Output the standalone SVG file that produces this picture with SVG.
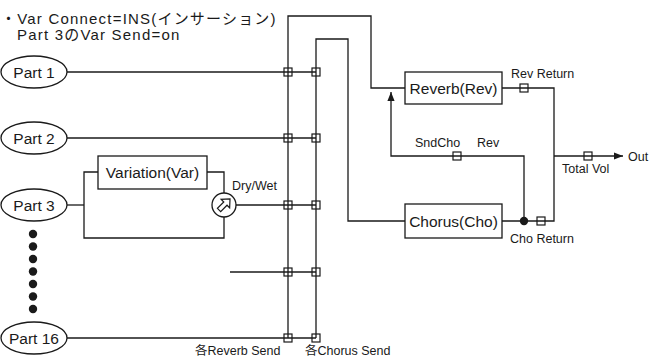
<svg xmlns="http://www.w3.org/2000/svg" width="652" height="358" viewBox="0 0 652 358">
<style>
  .ln{fill:none;stroke:#1a1a1a;stroke-width:1.3}
  .bx{fill:#fff;stroke:#1a1a1a;stroke-width:1.3}
  .sq{fill:none;stroke:#1a1a1a;stroke-width:1.2}
  .t{font-family:"Liberation Sans","Noto Sans CJK JP",sans-serif;fill:#1a1a1a}
  .big{font-size:15.5px}
  .sm{font-size:12.5px}
  .hd{font-size:15px;letter-spacing:1.2px}
</style>
<defs>
  <marker id="ah" viewBox="0 0 10 10" refX="10" refY="5" markerWidth="9" markerHeight="9" markerUnits="userSpaceOnUse" orient="auto">
    <path d="M0,1 L10,5 L0,9 Z" fill="#1a1a1a"/>
  </marker>
  <rect id="jq" x="-4" y="-4" width="8" height="8" class="sq"/>
</defs>
<rect width="652" height="358" fill="#fff"/>

<g id="header">
  <text class="t hd" x="1" y="24">・Var Connect=INS(インサーション)</text>
  <text class="t hd" x="17" y="40">Part 3のVar Send=on</text>
</g>

<g id="connectors">
  <path class="ln" d="M288,338 V16 H371 V88 H405"/>
  <path class="ln" d="M316,338 V39 H348 V221 H405"/>
  <path class="ln" d="M67,72 H316"/>
  <path class="ln" d="M67,138 H316"/>
  <path class="ln" d="M236,205 H316"/>
  <path class="ln" d="M230,272 H316"/>
  <path class="ln" d="M67,338 H316"/>
  <path class="ln" d="M67,205 H84"/>
  <path class="ln" d="M98,172 H84 V238 H224 V217"/>
  <path class="ln" d="M207,172 H224 V193"/>
  <path class="ln" d="M502,88 H554 V221 H502"/>
  <path class="ln" d="M524,221 V156 H391 V92" marker-end="url(#ah)"/>
  <path class="ln" d="M554,156 H623" marker-end="url(#ah)"/>
  <circle cx="524" cy="221" r="4.2" fill="#1a1a1a"/>
  <use href="#jq" x="288" y="72"/><use href="#jq" x="316" y="72"/>
  <use href="#jq" x="288" y="138"/><use href="#jq" x="316" y="138"/>
  <use href="#jq" x="288" y="205"/><use href="#jq" x="316" y="205"/>
  <use href="#jq" x="288" y="272"/><use href="#jq" x="316" y="272"/>
  <use href="#jq" x="288" y="338"/><use href="#jq" x="316" y="338"/>
  <use href="#jq" x="524" y="88"/>
  <use href="#jq" x="541" y="221"/>
  <use href="#jq" x="457" y="156"/>
  <use href="#jq" x="588" y="156"/>
</g>

<g id="part1">
  <ellipse class="bx" cx="34" cy="72" rx="33" ry="16"/>
  <text class="t big" x="34" y="77.5" text-anchor="middle">Part 1</text>
</g>
<g id="part2">
  <ellipse class="bx" cx="34" cy="138" rx="33" ry="16"/>
  <text class="t big" x="34" y="143.5" text-anchor="middle">Part 2</text>
</g>
<g id="part3">
  <ellipse class="bx" cx="34" cy="205" rx="33" ry="16"/>
  <text class="t big" x="34" y="210.5" text-anchor="middle">Part 3</text>
</g>
<g id="part16">
  <ellipse class="bx" cx="34" cy="338" rx="33" ry="16"/>
  <text class="t big" x="34" y="343.5" text-anchor="middle">Part 16</text>
</g>
<g id="ellipsis" fill="#1a1a1a">
  <circle cx="33" cy="234" r="4.2"/>
  <circle cx="33" cy="246.5" r="4.2"/>
  <circle cx="33" cy="259" r="4.2"/>
  <circle cx="33" cy="271.5" r="4.2"/>
  <circle cx="33" cy="284" r="4.2"/>
  <circle cx="33" cy="296.5" r="4.2"/>
  <circle cx="33" cy="309" r="4.2"/>
</g>

<g id="variation">
  <rect class="bx" x="98" y="156" width="109" height="33"/>
  <text class="t big" x="152.5" y="178" text-anchor="middle">Variation(Var)</text>
</g>
<g id="drywet">
  <circle class="bx" cx="224" cy="205" r="12"/>
  <path d="M0,-8.5 L6,-2 L2.3,-2 L2.3,7 L-2.3,7 L-2.3,-2 L-6,-2 Z" transform="translate(224,205) rotate(45)" fill="#fff" stroke="#1a1a1a" stroke-width="1.2" stroke-linejoin="miter"/>
  <text class="t sm" x="232" y="190">Dry/Wet</text>
</g>

<g id="reverb">
  <rect class="bx" x="405" y="72" width="97" height="32"/>
  <text class="t big" x="453.5" y="93.5" text-anchor="middle">Reverb(Rev)</text>
</g>
<g id="chorus">
  <rect class="bx" x="405" y="204" width="97" height="34"/>
  <text class="t big" x="453.5" y="226.5" text-anchor="middle">Chorus(Cho)</text>
</g>

<g id="labels">
  <text class="t sm" x="511" y="78">Rev Return</text>
  <text class="t sm" x="415" y="147">SndCho</text>
  <text class="t sm" x="477" y="147">Rev</text>
  <text class="t sm" x="562" y="173">Total Vol</text>
  <text class="t sm" x="628" y="161">Out</text>
  <text class="t sm" x="510" y="243">Cho Return</text>
  <text class="t sm" x="195" y="355">各Reverb Send</text>
  <text class="t sm" x="305" y="355">各Chorus Send</text>
</g>
</svg>
